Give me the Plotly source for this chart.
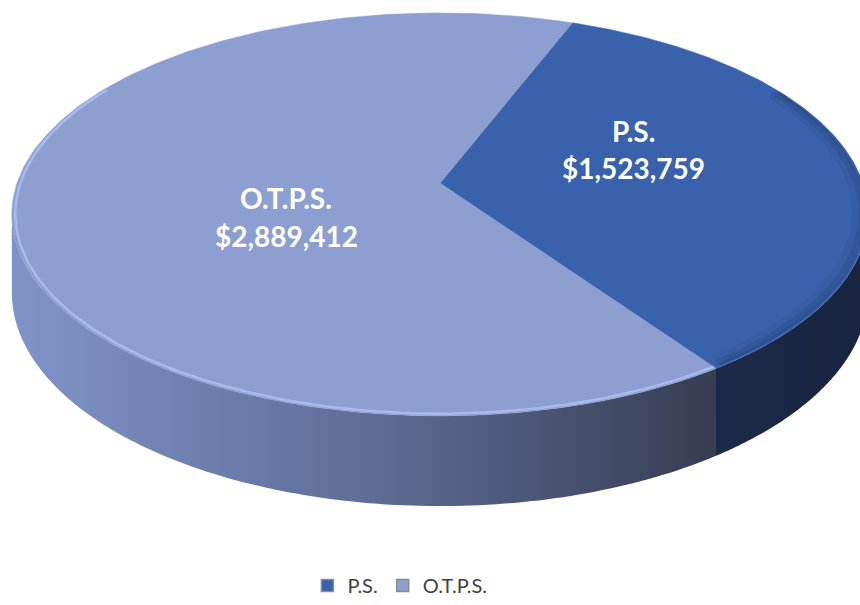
import numpy as np
import plotly.graph_objects as go

# ---- data ----
categories = ["P.S.", "O.T.P.S."]
values = [1523759, 2889412]
value_labels = ["$1,523,759", "$2,889,412"]

# ---- styling ----
top_colors = ["#3A62AC", "#8C9FD0"]
side_colors = [["#1C2A49", "#18243F"], ["#8094C8", "#5F6E98", "#363D52"]]
legend_colors = ["#3A62AC", "#8C9FD0"]

# ---- 3D-pie projection (pixel space) ----
CX, CY = 440.0, 185.0      # apex of slices
A, B = 423.0, 198.6        # horizontal / vertical radii
K = 0.155                  # perspective factor
H = 77.0                   # thickness
START = 21.0               # rotation of first slice (deg, clockwise from top)


def proj(theta_deg, r=1.0, z=0.0):
    t = np.radians(np.asarray(theta_deg, dtype=float))
    u = r * np.sin(t)
    v = -r * np.cos(t)
    d = 1 - K * v
    return CX + A * u / d, CY + (B * v + H * z) / d


total = float(sum(values))
angles = [START]
for v in values:
    angles.append(angles[-1] + 360.0 * v / total)

th_r = np.degrees(np.arccos(-K))
th_l = 360.0 - th_r

fig = go.Figure()

# sides
for i, cat in enumerate(categories):
    s, e = angles[i], angles[i + 1]
    lo, hi = max(s, th_r), min(e, th_l)
    if hi <= lo:
        continue
    th = np.linspace(lo, hi, 120)
    xt, yt = proj(th, 1, 0)
    xb, yb = proj(th[::-1], 1, 1)
    xs = np.concatenate([xt, xb, xt[:1]])
    ys = np.concatenate([yt, yb, yt[:1]])
    cs = side_colors[i]
    scale = [[j / (len(cs) - 1), c] for j, c in enumerate(cs)]
    fig.add_trace(go.Scatter(
        x=xs, y=ys, mode="none", fill="toself",
        fillgradient=dict(type="horizontal", colorscale=scale),
        showlegend=False, hoverinfo="skip"))

# top faces
for i, cat in enumerate(categories):
    s, e = angles[i], angles[i + 1]
    th = np.linspace(s, e, 240)
    xa, ya = proj(th, 1, 0)
    xs = np.concatenate([[CX], xa, [CX]])
    ys = np.concatenate([[CY], ya, [CY]])
    fig.add_trace(go.Scatter(
        x=xs, y=ys, mode="lines", fill="toself",
        fillcolor=top_colors[i], line=dict(width=0.5, color=top_colors[i]),
        showlegend=False, name=cat,
        hovertemplate=f"{cat}: {value_labels[i]}<extra></extra>"))

# rim bevel effects
s, e = angles[1], angles[2]
th = np.linspace(max(s, th_r), min(e, th_l + 40), 160)
xr, yr = proj(th, 0.992, 0)
fig.add_trace(go.Scatter(x=xr, y=yr, mode="lines",
                         line=dict(color="rgba(170,190,240,0.9)", width=2.5),
                         showlegend=False, hoverinfo="skip"))
s, e = angles[0], angles[1]
th = np.linspace(60, e - 1, 160)
for r, a, w in ((0.975, 0.10, 10), (0.985, 0.15, 6), (0.993, 0.2, 3)):
    xr, yr = proj(th, r, 0)
    fig.add_trace(go.Scatter(x=xr, y=yr, mode="lines",
                             line=dict(color=f"rgba(25,45,90,{a})", width=w),
                             showlegend=False, hoverinfo="skip"))

# legend entries
for i, cat in enumerate(categories):
    fig.add_trace(go.Scatter(
        x=[None], y=[None], mode="markers", name=cat,
        marker=dict(symbol="square", size=12, color=legend_colors[i],
                    line=dict(color="#8C8C8C", width=1.5))))

# labels
label_pos = [(633, 132, 170), (286, 200, 238)]
for i, cat in enumerate(categories):
    x, y1, y2 = label_pos[i]
    for txt, yy in ((cat, y1), (value_labels[i], y2)):
        fig.add_annotation(x=x, y=yy, text=txt, showarrow=False,
                           xanchor="center", yanchor="middle",
                           font=dict(family="Lato", size=28, color="white",
                                     weight="bold"))

fig.update_layout(
    width=860, height=605,
    margin=dict(l=0, r=0, t=0, b=0),
    paper_bgcolor="white", plot_bgcolor="white",
    xaxis=dict(range=[0, 860], visible=False, fixedrange=True),
    yaxis=dict(range=[605, 0], visible=False, fixedrange=True),
    showlegend=True,
    legend=dict(orientation="h", x=0.465, y=0.022, xanchor="center",
                yanchor="middle", font=dict(family="Lato", size=20,
                                            color="#404040"),
                itemwidth=30, tracegroupgap=0, bgcolor="rgba(0,0,0,0)"),
)

fig.write_html("out.html",
               config={"displayModeBar": False},
               post_script="document.body.style.margin='0px';"
                           "document.body.style.overflow='hidden';")
